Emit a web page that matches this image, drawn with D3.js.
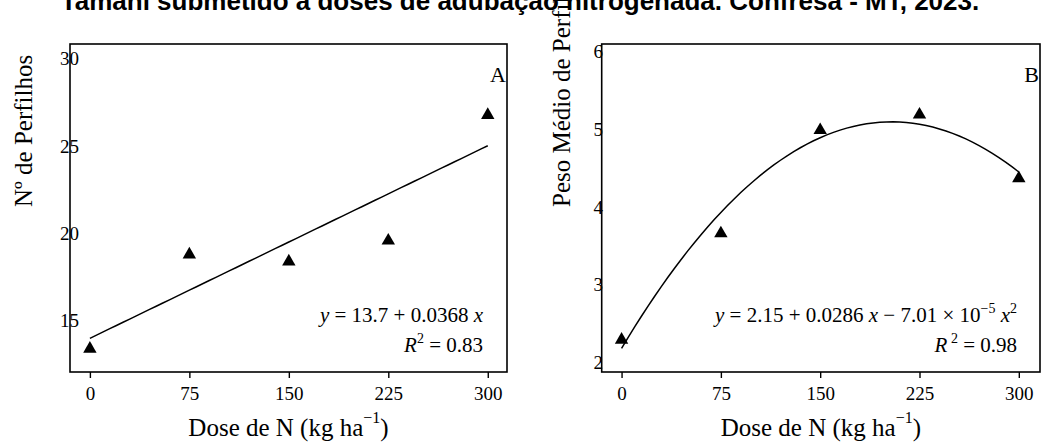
<!DOCTYPE html>
<html>
<head>
<meta charset="utf-8">
<script src="https://cdn.jsdelivr.net/npm/d3@7"></script>
<style>
  html, body { margin: 0; padding: 0; background: #fff; }
  svg { display: block; }
  text { font-family: "Liberation Serif", "Times New Roman", serif; fill: #000; }
</style>
</head>
<body>
<script>
// ---------------- data ----------------
const doses = [0, 75, 150, 225, 300];
const tillers = [13.1, 18.5, 18.1, 19.3, 26.5];      // Nº de Perfilhos (panel A)
const tillerWeight = [2.26, 3.63, 4.96, 5.16, 4.34]; // Peso Médio de Perfilhos (panel B)
const xTickValues = [0, 75, 150, 225, 300];
const yTicksA = [15, 20, 25, 30];
const yTicksB = [2, 3, 4, 5, 6];
const coefA = [13.7, 0.0368];            // y = 13.7 + 0.0368 x
const coefB = [2.15, 0.0286, -7.01e-5];  // y = 2.15 + 0.0286 x - 7.01e-5 x^2
const titleText = "Tamani submetido a doses de adubação nitrogenada. Confresa - MT, 2023.";
const xTitle = "Dose de N (kg ha";
const yTitleA = "Nº de Perfilhos";
const yTitleB = "Peso Médio de Perfilhos";

// ---------------- drawing ----------------
const W = 1050, H = 445;
const svg = d3.select("body").append("svg").attr("width", W).attr("height", H);
svg.append("rect").attr("width", W).attr("height", H).attr("fill", "#fff");

function poly(coef, x) { return coef.reduce((s, c, i) => s + c * Math.pow(x, i), 0); }

function panel(cfg) {
  const x = d3.scaleLinear().domain([-15, cfg.xMax]).range([cfg.left, cfg.right]);
  const y = d3.scaleLinear().domain(cfg.yDomain).range([cfg.bottom, cfg.top]);
  const g = svg.append("g");

  // y axis title
  g.append("text")
    .attr("transform", `translate(${cfg.yTitleX},207) rotate(-90)`)
    .attr("text-anchor", "start")
    .style("font-size", "25px")
    .text(cfg.yTitle);

  // frame
  g.append("rect")
    .attr("x", cfg.left).attr("y", cfg.top)
    .attr("width", cfg.right - cfg.left).attr("height", cfg.bottom - cfg.top)
    .attr("fill", "none").attr("stroke", "#000").attr("stroke-width", 1.6);

  // x axis ticks + labels
  const xAxis = d3.axisBottom(x).tickValues(xTickValues).tickSize(6).tickPadding(9);
  const xa = g.append("g").attr("transform", `translate(0,${cfg.bottom})`).call(xAxis);
  xa.select(".domain").remove();
  xa.selectAll(".tick line").attr("stroke", "#000").attr("stroke-width", 1.4);
  xa.selectAll(".tick text")
    .style("font-family", '"Liberation Serif", serif').style("font-size", "19px")
    .attr("fill", "#000");

  // y tick labels (no tick marks)
  g.selectAll(".ylab").data(cfg.yTicks).enter().append("text")
    .attr("x", cfg.yLabX).attr("y", d => y(d) + cfg.yLabDy)
    .attr("text-anchor", "end").style("font-size", "19px")
    .text(d => d);

  // x axis title
  const xt = g.append("text")
    .attr("x", (cfg.left + cfg.right) / 2).attr("y", 436)
    .attr("text-anchor", "middle").style("font-size", "25px");
  xt.append("tspan").text(xTitle);
  xt.append("tspan").attr("dy", -13).style("font-size", "16px").text("\u22121");
  xt.append("tspan").attr("dy", 13).text(")");

  // fitted curve
  const xs = d3.range(0, 300.001, 5);
  g.append("path")
    .datum(xs)
    .attr("fill", "none").attr("stroke", "#000").attr("stroke-width", 1.5)
    .attr("d", d3.line().x(d => x(d)).y(d => y(poly(cfg.coef, d))));

  // observed points (filled triangles)
  g.selectAll(".pt").data(doses).enter().append("path")
    .attr("transform", (d, i) => `translate(${x(d)},${y(cfg.values[i])})`)
    .attr("d", d3.symbol().type(d3.symbolTriangle).size(78))
    .attr("fill", "#000");

  // panel letter
  g.append("text")
    .attr("x", cfg.right - 1).attr("y", 82)
    .attr("text-anchor", "end").style("font-size", "22px")
    .text(cfg.letter);

  // equation
  const eq = g.append("text")
    .attr("x", cfg.eqX).attr("y", 321.5)
    .attr("text-anchor", "end").style("font-size", "21px");
  cfg.eq(eq);
  const r2 = g.append("text")
    .attr("x", cfg.eqX).attr("y", 351.5)
    .attr("text-anchor", "end").style("font-size", "21px");
  r2.append("tspan").style("font-style", "italic").text("R");
  r2.append("tspan").attr("dy", -9).style("font-size", "14px").text(cfg.r2sp + "2");
  r2.append("tspan").attr("dy", 9).text(" = " + cfg.r2);
}

panel({
  left: 70, right: 507, top: 44, bottom: 372,
  xMax: 314.5, yDomain: [11.77, 30.57],
  yTicks: yTicksA, yLabX: 79, yLabDy: 11.5,
  yTitle: yTitleA, yTitleX: 32,
  values: tillers, coef: coefA, letter: "A",
  eqX: 483, r2: "0.83", r2sp: "",
  eq: t => {
    t.append("tspan").style("font-style", "italic").text("y");
    t.append("tspan").text(" = 13.7 + 0.0368 ");
    t.append("tspan").style("font-style", "italic").text("x");
  }
});

panel({
  left: 601.7, right: 1040, top: 44, bottom: 372,
  xMax: 316, yDomain: [1.845, 6.07],
  yTicks: yTicksB, yLabX: 603, yLabDy: 9,
  yTitle: yTitleB, yTitleX: 570,
  values: tillerWeight, coef: coefB, letter: "B",
  eqX: 1017, r2: "0.98", r2sp: " ",
  eq: t => {
    t.append("tspan").style("font-style", "italic").text("y");
    t.append("tspan").text(" = 2.15 + 0.0286 ");
    t.append("tspan").style("font-style", "italic").text("x");
    t.append("tspan").text(" \u2212 7.01 \u00d7 10");
    t.append("tspan").attr("dy", -9).style("font-size", "14px").text("\u22125");
    t.append("tspan").attr("dy", 9).text(" ");
    t.append("tspan").style("font-style", "italic").text("x");
    t.append("tspan").attr("dy", -9).style("font-size", "14px").text("2");
  }
});

// title (clipped at the top of the picture, as in the reference)
svg.append("text")
  .attr("x", 520).attr("y", 9.5)
  .attr("text-anchor", "middle")
  .style("font-family", '"Liberation Sans", Arial, sans-serif')
  .style("font-weight", "bold").style("font-size", "26px")
  .text(titleText);
</script>
</body>
</html>
